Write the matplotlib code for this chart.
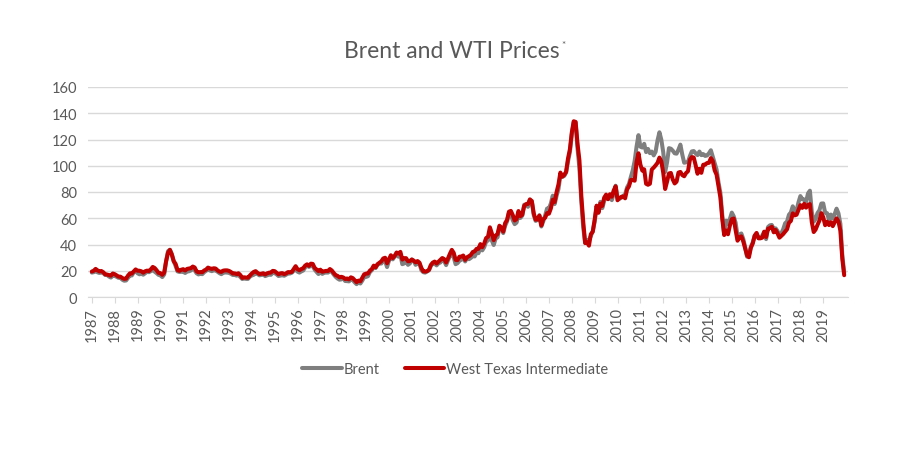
import numpy as np
import matplotlib
matplotlib.use("Agg")
import matplotlib.pyplot as plt

# =========================
# DATA (monthly, May 1987 - Apr 2020)
# =========================

brent = [
    18.6, 18.9, 19.9, 18.8, 18.3, 18.8, 18.2, 16.8,
    16.8, 15.6, 14.8, 16.3, 16.1, 15.4, 14.6, 14.6, 13.2, 12.4, 12.6, 14.6,
    16.5, 16.4, 18.8, 19.9, 18.1, 17.3, 17.7, 17.0, 18.1, 19.2, 18.9, 19.7,
    20.9, 19.3, 18.2, 16.9, 16.5, 15.2, 17.2, 27.2, 34.9, 36.0, 32.8, 27.3,
    23.6, 19.5, 19.1, 19.2, 19.2, 18.3, 19.4, 19.6, 20.2, 21.9, 20.4, 18.1,
    17.2, 17.7, 17.4, 18.9, 19.9, 21.0, 20.2, 19.7, 20.3, 20.3, 19.2, 18.2,
    17.4, 18.4, 18.7, 18.6, 18.4, 17.7, 16.8, 16.8, 16.3, 16.9, 15.2, 13.7,
    14.3, 13.8, 13.8, 15.5, 16.4, 16.9, 18.3, 17.5, 16.5, 16.8, 17.5, 15.9,
    16.5, 17.1, 16.9, 18.5, 18.2, 17.3, 16.0, 16.3, 16.6, 16.2, 17.0, 17.9,
    17.9, 18.5, 20.0, 21.0, 19.3, 18.6, 19.5, 20.2, 22.5, 24.2, 22.9, 23.8,
    23.5, 20.9, 19.1, 17.5, 19.0, 17.6, 18.5, 18.6, 18.6, 19.9, 19.2, 17.1,
    15.4, 14.1, 13.2, 13.4, 14.4, 12.2, 12.1, 11.9, 13.4, 12.9, 11.2, 9.8,
    11.1, 10.3, 12.5, 15.2, 15.3, 15.9, 19.0, 20.4, 22.6, 22.1, 24.6, 25.5,
    25.5, 27.8, 27.4, 22.8, 27.6, 29.8, 28.7, 30.8, 33.0, 30.7, 32.5, 25.0,
    25.6, 27.5, 24.5, 25.6, 28.5, 27.7, 24.5, 25.7, 25.6, 20.5, 18.9, 18.6,
    19.4, 20.3, 23.7, 25.7, 25.4, 24.1, 25.7, 26.3, 28.4, 27.5, 24.3, 28.0,
    31.2, 32.8, 30.3, 25.0, 25.8, 27.6, 28.4, 29.8, 27.1, 29.6, 28.8, 29.8,
    31.3, 30.9, 33.8, 33.4, 37.6, 35.5, 37.9, 42.1, 43.1, 49.8, 43.1, 39.6,
    44.5, 45.5, 53.1, 51.9, 48.7, 54.3, 57.6, 64.1, 62.9, 58.5, 55.5, 56.7,
    62.9, 60.2, 62.1, 70.3, 69.8, 68.7, 73.7, 73.2, 62.5, 58.0, 58.7, 62.3,
    53.7, 57.6, 62.1, 67.4, 67.5, 71.3, 77.2, 70.8, 77.1, 82.3, 92.5, 91.5,
    92.2, 94.8, 103.3, 110.4, 123.9, 133.1, 133.0, 113.2, 98.0, 72.5, 53.0, 41.3,
    43.4, 43.3, 46.5, 50.2, 57.3, 68.6, 64.4, 72.5, 67.7, 73.2, 77.0, 74.7,
    76.2, 73.8, 78.8, 84.8, 75.9, 74.8, 75.6, 77.1, 78.2, 83.5, 86.1, 91.5,
    96.5, 103.7, 114.6, 123.3, 114.5, 113.9, 116.7, 110.4, 112.8, 109.6, 110.8, 107.9,
    110.7, 119.3, 125.5, 119.8, 110.3, 95.2, 102.6, 113.4, 113.0, 111.5, 109.5, 109.2,
    112.3, 116.1, 108.5, 102.3, 102.6, 102.9, 107.4, 110.9, 111.2, 109.5, 108.1, 110.8,
    108.1, 108.9, 107.5, 107.8, 109.5, 111.8, 106.8, 101.6, 97.1, 87.4, 79.4, 62.3,
    47.8, 58.1, 55.9, 59.5, 64.3, 61.5, 56.6, 46.5, 47.6, 48.4, 44.3, 38.0,
    30.7, 32.2, 38.2, 41.6, 46.7, 48.3, 44.9, 45.8, 46.6, 49.5, 44.1, 53.3,
    54.6, 54.9, 51.6, 52.3, 50.3, 46.4, 48.5, 51.7, 56.2, 57.5, 62.7, 64.4,
    69.1, 65.3, 66.0, 72.1, 76.9, 74.4, 74.3, 72.5, 78.9, 81.0, 64.8, 57.4,
    59.4, 64.0, 66.1, 71.2, 71.3, 64.2, 63.9, 59.0, 62.8, 59.7, 63.2, 67.3,
    63.7, 55.7, 32.0, 18.4,
]

wti = [
    19.4, 20.0, 21.4, 20.3, 19.5, 19.8, 18.9, 17.3,
    17.1, 16.7, 16.2, 17.9, 17.4, 16.5, 15.5, 15.5, 14.5, 13.8, 14.0, 16.3,
    18.0, 17.9, 19.4, 21.0, 20.0, 20.0, 19.6, 18.5, 19.6, 20.1, 19.8, 21.1,
    22.9, 22.1, 20.4, 18.4, 18.2, 16.9, 18.6, 27.2, 33.7, 35.9, 32.3, 27.3,
    25.2, 20.5, 19.9, 20.8, 21.2, 20.2, 21.4, 21.7, 21.9, 23.2, 22.5, 19.5,
    18.8, 19.0, 18.9, 20.2, 20.9, 22.4, 21.8, 21.4, 21.9, 21.7, 20.3, 19.4,
    19.1, 20.1, 20.3, 20.3, 19.9, 19.1, 17.9, 18.0, 17.5, 18.1, 16.7, 14.5,
    15.0, 14.8, 14.7, 16.4, 17.9, 19.1, 19.7, 18.4, 17.5, 17.7, 18.1, 17.2,
    18.0, 18.5, 18.6, 19.9, 19.7, 18.5, 17.3, 18.0, 18.2, 17.4, 18.0, 19.0,
    18.9, 19.1, 21.3, 23.5, 21.2, 20.4, 21.3, 21.9, 23.9, 24.9, 23.7, 25.4,
    25.2, 22.2, 20.9, 19.7, 20.8, 19.2, 19.6, 19.9, 19.8, 21.3, 20.2, 18.3,
    16.7, 16.1, 15.0, 15.4, 14.9, 13.7, 14.1, 13.4, 15.0, 14.4, 12.9, 11.3,
    12.5, 12.0, 14.7, 17.3, 17.8, 17.9, 20.1, 21.3, 23.9, 22.6, 25.0, 26.1,
    27.2, 29.4, 29.9, 25.7, 28.8, 31.8, 29.7, 31.3, 33.9, 33.1, 34.4, 28.5,
    29.6, 29.6, 27.2, 27.4, 28.6, 27.6, 26.4, 27.4, 26.2, 22.2, 19.6, 19.4,
    19.7, 20.7, 24.4, 26.2, 27.0, 25.5, 26.9, 28.4, 29.7, 28.9, 26.3, 29.4,
    32.9, 35.9, 33.6, 28.3, 28.1, 30.7, 30.8, 31.6, 28.3, 30.3, 31.1, 32.1,
    34.3, 34.7, 36.7, 36.7, 40.3, 38.0, 40.7, 44.9, 45.9, 53.1, 48.5, 43.3,
    46.8, 48.0, 54.3, 53.0, 49.8, 56.3, 58.7, 65.0, 65.6, 62.4, 58.3, 59.4,
    65.5, 61.6, 62.7, 69.4, 70.8, 70.9, 74.4, 73.0, 63.8, 58.9, 59.1, 62.0,
    54.5, 59.3, 60.4, 63.9, 63.5, 67.5, 74.1, 72.4, 79.9, 85.8, 94.8, 91.7,
    93.0, 95.4, 105.5, 112.6, 125.4, 133.9, 133.4, 116.7, 104.1, 76.6, 57.3, 41.1,
    41.7, 39.1, 47.9, 49.7, 59.0, 69.6, 64.2, 71.1, 69.4, 75.7, 78.0, 74.5,
    78.3, 76.4, 81.2, 84.3, 73.7, 75.3, 76.3, 76.6, 75.2, 81.9, 84.3, 89.2,
    89.2, 88.6, 102.9, 109.5, 100.9, 96.3, 97.3, 86.3, 85.5, 86.3, 97.2, 98.6,
    100.3, 102.2, 106.2, 103.3, 94.7, 82.3, 87.9, 94.1, 94.5, 89.5, 86.5, 87.9,
    94.8, 95.3, 92.9, 92.0, 94.5, 95.8, 104.6, 106.6, 106.3, 100.5, 93.9, 97.6,
    94.6, 100.8, 100.8, 102.1, 102.2, 105.8, 103.6, 96.5, 93.2, 84.4, 75.8, 59.3,
    47.2, 50.6, 47.8, 54.5, 59.3, 59.8, 50.9, 42.9, 45.5, 46.2, 42.4, 37.2,
    31.7, 30.3, 37.5, 40.8, 46.7, 48.8, 44.7, 44.7, 45.2, 49.8, 45.7, 52.0,
    52.5, 53.5, 49.3, 51.1, 48.5, 45.2, 46.6, 48.0, 49.8, 51.6, 56.6, 57.9,
    63.7, 62.2, 62.7, 66.3, 70.0, 67.9, 71.0, 68.1, 70.2, 70.8, 57.0, 49.5,
    51.4, 55.0, 58.2, 63.9, 60.8, 54.7, 57.4, 54.8, 57.0, 54.0, 57.0, 59.9,
    57.5, 50.5, 29.2, 16.6,
]

years = [str(y) for y in range(1987, 2020)]
y_ticks = [0, 20, 40, 60, 80, 100, 120, 140, 160]

# =========================
# STYLE
# =========================

plt.rcParams['font.family'] = ['Lato', 'DejaVu Sans']
text_color = '#595959'
grid_color = '#D9D9D9'

months = np.arange(len(brent))

fig = plt.figure(figsize=(9, 4.56), dpi=100)
ax = fig.add_axes([88 / 900, 1 - 298 / 456, 760 / 900, 210 / 456])

ax.plot(months, brent, color='#7F7F7F', lw=2.9, solid_joinstyle='round',
        solid_capstyle='round', label='Brent', zorder=3)
ax.plot(months, wti, color='#C00000', lw=2.9, solid_joinstyle='round',
        solid_capstyle='round', label='West Texas Intermediate', zorder=4)

ax.set_xlim(-2, 397)
ax.set_ylim(0, 160)
ax.set_yticks(y_ticks)
ax.set_xticks(np.arange(len(years)) * 12)
ax.set_xticklabels(years, rotation=90)

ax.grid(axis='y', color=grid_color, lw=1)
ax.set_axisbelow(True)
for side in ['top', 'right', 'left']:
    ax.spines[side].set_visible(False)
ax.spines['bottom'].set_color(grid_color)
ax.tick_params(axis='y', length=0, pad=8, labelsize=10.5, labelcolor=text_color)
ax.tick_params(axis='x', length=4, color=grid_color, pad=3,
               labelsize=10.5, labelcolor=text_color)

# =========================
# TITLE + LEGEND
# =========================

fig.text(0.502, 1 - 51 / 456, 'Brent and WTI Prices', ha='center', va='center',
         fontsize=16.5, color=text_color)
fig.text(561 / 900, 1 - 46 / 456, '*', ha='left', va='center',
         fontsize=7, color=text_color)

fig.legend(loc='center', bbox_to_anchor=(0.506, 1 - 370 / 456), ncol=2,
           frameon=False, fontsize=10.5, labelcolor=text_color,
           handlelength=2.7, handletextpad=0.15, columnspacing=1.7)

fig.savefig('out.png', dpi=100)
